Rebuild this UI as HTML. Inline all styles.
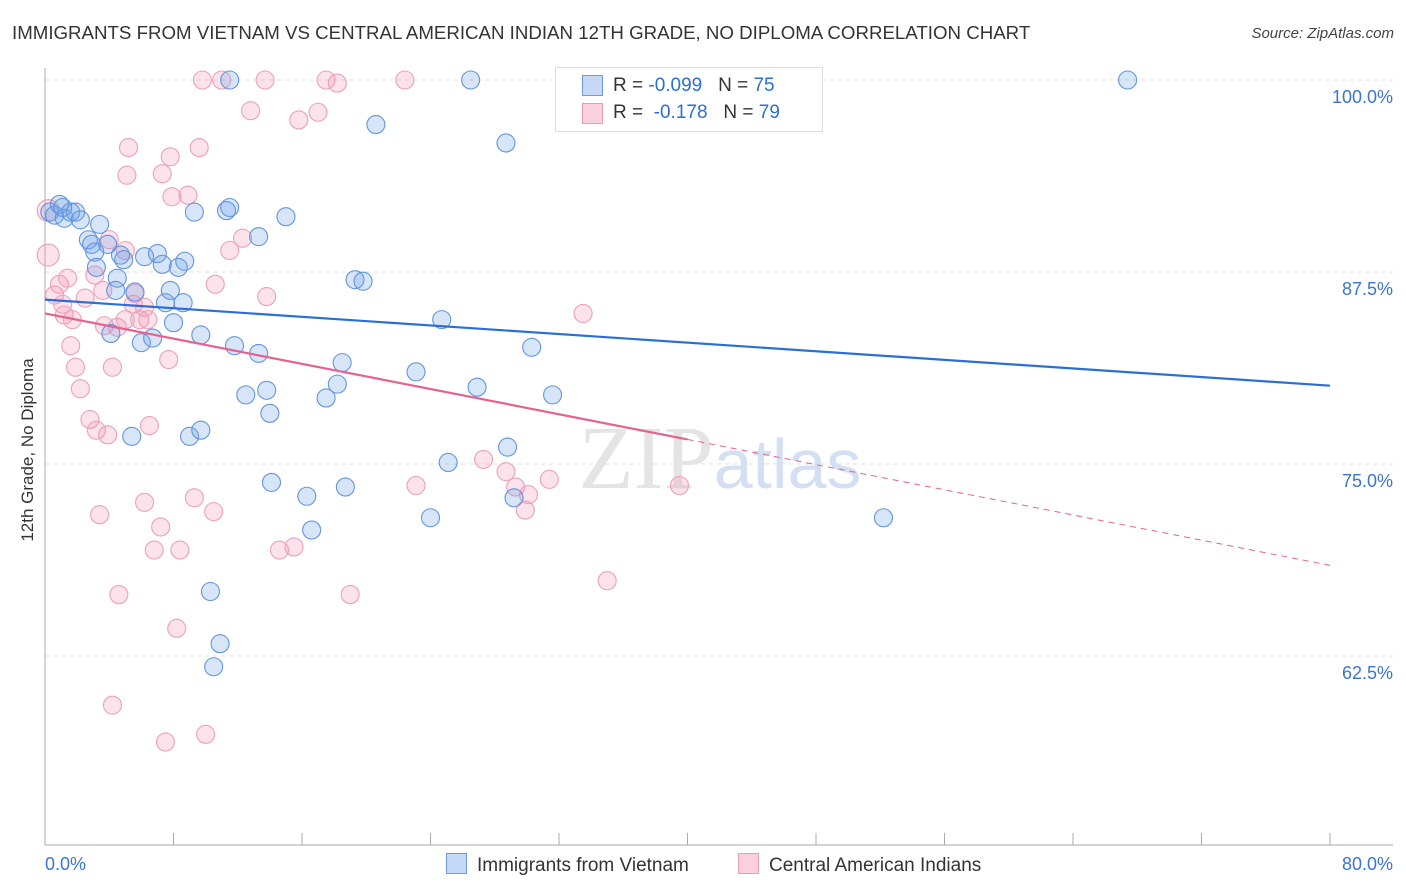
<!DOCTYPE html>
<html><head><meta charset="utf-8"><style>
body{margin:0;background:#fff;font-family:"Liberation Sans",sans-serif;}
#wrap{position:relative;width:1406px;height:892px;overflow:hidden;}
.t{position:absolute;white-space:nowrap;}
</style></head><body>
<div id="wrap">
<div class="t" style="left:12px;top:22px;font-size:18.7px;color:#333;">IMMIGRANTS FROM VIETNAM VS CENTRAL AMERICAN INDIAN 12TH GRADE, NO DIPLOMA CORRELATION CHART</div>
<div class="t" style="right:12px;top:25px;font-size:15px;color:#444;font-style:italic;">Source: ZipAtlas.com</div>
<div class="t" style="left:17px;top:560px;font-size:17px;color:#333;transform:rotate(-90deg);transform-origin:0 0;width:220px;text-align:center;line-height:22px;">12th Grade, No Diploma</div>
<svg id="svg" width="1406" height="892" style="position:absolute;left:0;top:0;"></svg>
</div>
<script>
const bx=[0.3,0.6,0.9,1.2,1.6,1.9,2.2,1.1,2.7,2.9,3.4,3.1,3.2,3.9,4.5,4.4,4.7,4.1,4.9,5.6,6.2,7.0,7.3,7.5,7.8,8.3,8.6,8.7,6.0,6.7,8.0,9.7,9.3,11.3,11.5,13.3,15.0,11.8,13.3,13.8,12.5,14.0,5.4,9.0,9.7,14.1,16.3,18.7,16.6,17.5,18.2,18.5,19.3,19.8,20.6,23.1,24.7,24.0,25.1,26.9,26.5,28.7,30.3,28.8,29.2,31.6,10.3,10.9,10.5,11.5,52.2,67.4,43.3];
const by=[91.4,91.2,91.9,91.0,91.4,91.4,90.9,91.7,89.6,89.3,90.6,88.8,87.8,89.3,87.1,86.3,88.6,83.5,88.3,86.2,88.5,88.7,88.0,85.5,86.3,87.8,85.5,88.2,82.9,83.2,84.2,83.4,91.4,91.5,91.7,89.8,91.1,82.7,82.2,79.8,79.5,78.3,76.8,76.8,77.2,73.8,72.9,73.5,70.7,79.3,80.2,81.6,87.0,86.9,97.1,81.0,84.4,71.5,75.1,80.0,100,95.9,82.6,76.1,72.8,79.5,66.7,63.3,61.8,100,71.5,100,100.1];
const px=[0.2,0.2,0.6,0.9,1.1,1.4,1.2,1.7,1.6,1.9,2.2,2.8,3.2,3.4,3.9,2.5,3.1,3.6,3.7,4.2,4.5,5.0,5.0,4.0,4.2,4.6,5.2,5.1,5.6,5.5,5.9,6.2,6.4,6.2,6.5,6.8,7.2,7.3,7.7,7.8,7.9,8.2,8.4,8.9,9.3,9.6,9.8,10.0,10.5,10.6,11.5,12.3,12.8,13.7,13.8,14.6,15.5,15.8,17.0,17.5,18.2,19.0,7.5,22.4,23.1,27.3,28.7,29.3,29.9,30.1,31.4,33.5,35.0,39.5,11.0];
const py=[91.5,88.6,86.0,86.7,85.4,87.1,84.7,84.4,82.7,81.3,79.9,77.9,77.2,71.7,76.9,85.8,87.3,86.3,84.0,81.3,83.9,84.4,88.9,89.6,59.3,66.5,95.6,93.8,86.1,85.4,84.4,85.2,84.4,72.5,77.5,69.4,70.9,93.9,81.8,95.0,92.4,64.3,69.4,92.5,72.8,95.6,100,57.4,71.9,86.7,88.9,89.7,98.0,100,85.9,69.4,69.6,97.4,97.9,100,99.8,66.5,56.9,100,73.6,75.3,74.5,73.5,72.0,73.0,74.0,84.8,67.4,73.6,100];
const blueTrend=[85.7,80.1];
const pinkTrend=[84.8,68.4];
const yTicks=[100,87.5,75,62.5];
const yTickLabels=["100.0%","87.5%","75.0%","62.5%"];
const X=v=>45+v/80*1285, Y=v=>80+(100-v)/12.5*192;
const s=document.getElementById('svg'),NS='http://www.w3.org/2000/svg';
function mk(t,a){const e=document.createElementNS(NS,t);for(const k in a)e.setAttribute(k,a[k]);s.appendChild(e);return e;}
yTicks.forEach((v,i)=>{
 const g=mk('line',{x1:45,x2:1393,y1:Y(v),y2:Y(v),stroke:'#ddd','stroke-dasharray':'4,4'});
 
 
 const t=mk('text',{x:1393,y:Y(v)+23,'text-anchor':'end','font-size':18,fill:'#3a74d6','font-family':'Liberation Sans'});
 t.textContent=yTickLabels[i];
 
 
});
const ax=mk('line',{x1:45,x2:45,y1:68,y2:845,stroke:'#aaa'});


const bxl=mk('line',{x1:45,x2:1393,y1:845,y2:845,stroke:'#aaa'});


for(let i=0;i<=10;i++){const l=mk('line',{x1:X(i*8),x2:X(i*8),y1:833,y2:845,stroke:'#aaa'});
 
 }
[['0.0%',45,'start'],['80.0%',1393,'end']].forEach(d=>{const t=mk('text',{x:d[1],y:870,'text-anchor':d[2],'font-size':18,fill:'#3a74d6','font-family':'Liberation Sans'});t.textContent=d[0];
 
 });
const wm=mk('text',{x:720,y:488,'text-anchor':'middle','font-size':90,'font-family':'Liberation Serif',fill:'#e4e4e4'});


wm.innerHTML='ZIP<tspan font-family="Liberation Sans" fill="#d3e0f3" font-size="70">atlas</tspan>';
px.forEach((v,i)=>{const c=mk('circle',{cx:X(v),cy:Y(py[i]),r:i<2?11:9,fill:'rgba(242,150,182,0.28)',stroke:'#ee9fba','stroke-width':1.1});
 
 });
bx.forEach((v,i)=>{const c=mk('circle',{cx:X(v),cy:Y(by[i]),r:9,fill:'rgba(110,160,232,0.28)',stroke:'#6394dc','stroke-width':1.1});
 
 });
const bl=mk('line',{x1:X(0),y1:Y(blueTrend[0]),x2:X(80),y2:Y(blueTrend[1]),stroke:'#2a6fd6','stroke-width':2.2});


const pm=pinkTrend[0]+(pinkTrend[1]-pinkTrend[0])*0.5;
const pl=mk('line',{x1:X(0),y1:Y(pinkTrend[0]),x2:X(40),y2:Y(pm),stroke:'#e5628e','stroke-width':2.2});


const pd=mk('line',{x1:X(40),y1:Y(pm),x2:X(80),y2:Y(pinkTrend[1]),stroke:'#e5628e','stroke-width':1,'stroke-dasharray':'6,5'});


</script>
<div class="t" style="left:555px;top:67px;width:266px;height:63px;border:1px solid #ddd;background:#fff;"></div>
<div class="t" style="left:582px;top:75px;width:19px;height:19px;background:#c5d9f6;border:1px solid #6d9be0;"></div>
<div class="t" style="left:582px;top:103px;width:19px;height:19px;background:#fbd0de;border:1px solid #ec9ab5;"></div>
<div class="t" style="left:613px;top:75px;font-size:19px;color:#333;">R = <span style="color:#2a6fd6">-0.099</span> &nbsp; N = <span style="color:#2a6fd6">75</span></div>
<div class="t" style="left:613px;top:102px;font-size:19px;color:#333;">R = &nbsp;<span style="color:#2a6fd6">-0.178</span> &nbsp; N = <span style="color:#2a6fd6">79</span></div>
<div class="t" style="left:446px;top:853px;font-size:19px;color:#333;"><span style="display:inline-block;width:19px;height:19px;background:#c5d9f6;border:1px solid #6d9be0;vertical-align:-3px;margin-right:10px;"></span>Immigrants from Vietnam</div>
<div class="t" style="left:738px;top:853px;font-size:19px;color:#333;"><span style="display:inline-block;width:19px;height:19px;background:#fbd0de;border:1px solid #ec9ab5;vertical-align:-3px;margin-right:10px;"></span>Central American Indians</div>
</body></html>
